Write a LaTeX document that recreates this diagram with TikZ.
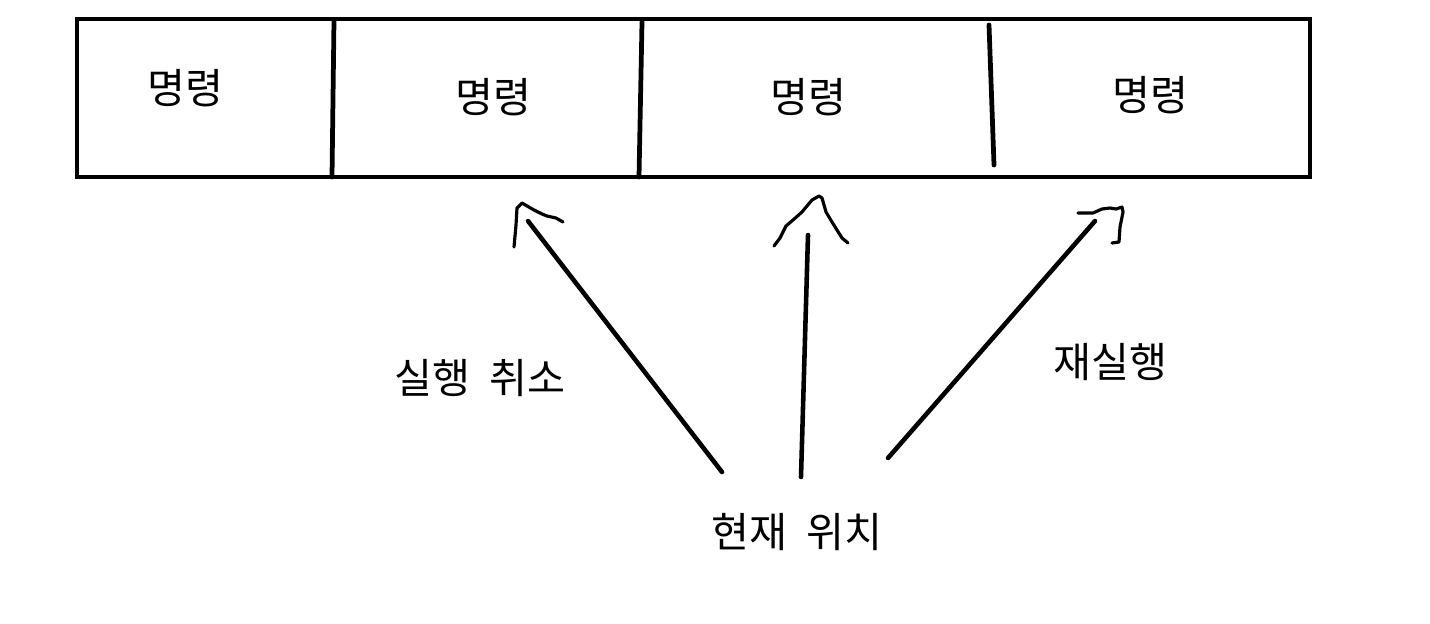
\documentclass[tikz,border=0pt]{standalone}
\usepackage{fontspec}
\setmainfont{Noto Sans CJK KR}
\newcommand\labelfont{\fontsize{23.5}{28}\selectfont\spaceskip=0.45em\relax}
\tikzset{
  frame/.style={line width=2.7pt, line cap=round},
  shaft/.style={line width=2.6pt, line cap=round},
  tip/.style={line width=1.8pt, line cap=round, line join=round},
  label/.style={font=\labelfont, inner sep=0pt}
}
\begin{document}
\begin{tikzpicture}[x=0.02cm, y=-0.02cm]
    \useasboundingbox (0,0) rectangle (1430,623);

    % Pila dei comandi
    \draw[frame] (77,19) rectangle (1310,177);
    \draw[frame] (334,20) -- (332,177);
    \draw[frame] (642,22) -- (639,177);
    \draw[frame] (989,25) -- (994,165);

    % Comandi
    \node[label] (cmd1) at (185,88) {명령};
    \node[label] (cmd2) at (493,97) {명령};
    \node[label] (cmd3) at (808,97) {명령};
    \node[label] (cmd4) at (1150,95) {명령};

    % Etichette
    \node[label] (undo) at (480,378) {실행 취소};
    \node[label] (redo) at (1110,362) {재실행};
    \node[label] (cur) at (797,532) {현재 위치};

    % Punti delle frecce
    \coordinate (undoS) at (722,472);
    \coordinate (undoE) at (528,221);
    \coordinate (curS) at (801,477);
    \coordinate (curE) at (808,235);
    \coordinate (redoS) at (888,458);
    \coordinate (redoE) at (1095,221);

    % Frecce
    \draw[shaft] (undoS) -- (undoE);
    \draw[tip] (514,247) -- (516,225) -- (517,208) -- (522,203) -- (534,210) -- (542,214) -- (547,216) -- (556,218) -- (563,222);
    \draw[shaft] (curS) -- (curE);
    \draw[tip] (774,246) -- (780,238) -- (786,226) -- (793,220) -- (802,212) -- (812,200) -- (819,196) -- (822,198) -- (826,212) -- (832,222) -- (837,230) -- (842,238) -- (848,243);
    \draw[shaft] (redoS) -- (redoE);
    \draw[tip] (1078,213) -- (1093,213) -- (1102,209) -- (1110,208) -- (1116,209) -- (1122,207) -- (1123,212) -- (1120,227) -- (1119,242) -- (1112,243);
\end{tikzpicture}
\end{document}
